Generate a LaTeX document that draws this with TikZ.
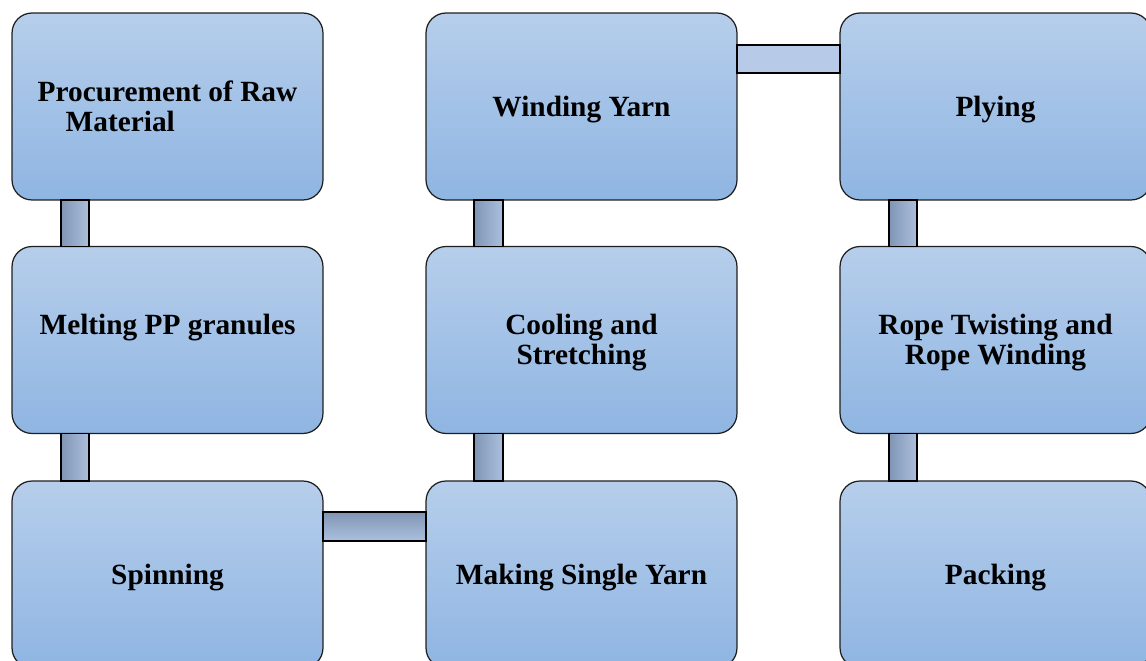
\documentclass[tikz,border=0pt]{standalone}
\usepackage{fontspec}
\setmainfont{Liberation Serif}
\definecolor{boxtop}{RGB}{182,206,235}
\definecolor{boxbot}{RGB}{143,181,226}
\definecolor{bardark}{RGB}{128,148,180}
\definecolor{barlight}{RGB}{172,192,222}
\definecolor{barflat}{RGB}{183,202,232}
\newcommand{\stagetext}[2][c]{\begin{tabular}{@{}#1@{}}#2\end{tabular}}
\begin{document}
\begin{tikzpicture}[x=0.02cm,y=-0.02cm,
  every node/.style={outer sep=0pt},
  stagebox/.style={draw={rgb,255:red,30;green,30;blue,30}, line width=0.7pt, rounded corners=0.4cm, top color=boxtop, bottom color=boxbot, minimum width=6.22cm, minimum height=3.74cm, text height=13.1pt, text depth=0pt, font=\fontsize{16.7}{17}\selectfont\bfseries},
  vbar/.style={draw=black, line width=0.7pt, left color=bardark, right color=barlight},
  hbar/.style={draw=black, line width=0.7pt, top color=bardark, bottom color=barlight},
  flatbar/.style={draw=black, line width=0.7pt, fill=barflat}]
\useasboundingbox (0,0) rectangle (1146,661);
\node[stagebox] (procure) at (167.5,106.5) {\stagetext[l]{Procurement of Raw\\\hspace*{0.56cm}Material}};
\node[stagebox] (melt) at (167.5,340) {\stagetext{Melting PP granules\\\mbox{}}};
\node[stagebox] (spin) at (167.5,574.5) {\stagetext{Spinning}};
\node[stagebox] (single) at (581.5,574.5) {\stagetext{Making Single Yarn}};
\node[stagebox] (cool) at (581.5,340) {\stagetext{Cooling and\\Stretching}};
\node[stagebox] (wind) at (581.5,106.5) {\stagetext{Winding Yarn}};
\node[stagebox] (ply) at (995.5,106.5) {\stagetext{Plying}};
\node[stagebox] (twist) at (995.5,340) {\stagetext{Rope Twisting and\\Rope Winding}};
\node[stagebox] (pack) at (995.5,574.5) {\stagetext{Packing}};
% connecting bars
\draw[vbar] ([xshift=0.98cm]procure.south west) rectangle ([xshift=1.54cm]melt.north west);
\draw[vbar] ([xshift=0.98cm]melt.south west) rectangle ([xshift=1.54cm]spin.north west);
\draw[hbar] ([yshift=-0.62cm]spin.north east) rectangle ([yshift=-1.2cm]single.north west);
\draw[vbar] ([xshift=0.96cm]single.north west) rectangle ([xshift=1.54cm]cool.south west);
\draw[vbar] ([xshift=0.96cm]cool.north west) rectangle ([xshift=1.54cm]wind.south west);
\draw[flatbar] ([yshift=-0.64cm]wind.north east) rectangle ([yshift=-1.2cm]ply.north west);
\draw[vbar] ([xshift=0.98cm]ply.south west) rectangle ([xshift=1.54cm]twist.north west);
\draw[vbar] ([xshift=0.98cm]twist.south west) rectangle ([xshift=1.54cm]pack.north west);
\end{tikzpicture}
\end{document}
